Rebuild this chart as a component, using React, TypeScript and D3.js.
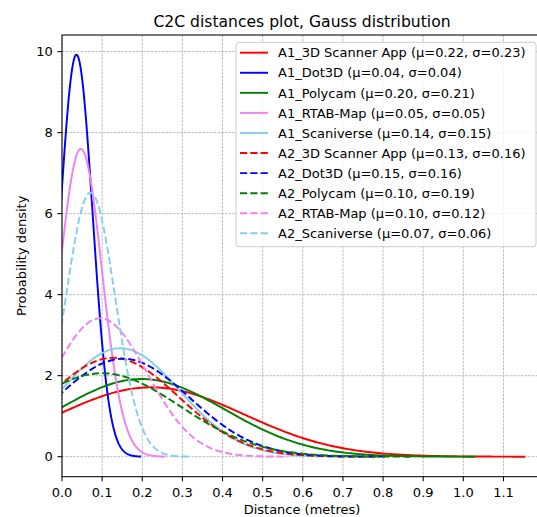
import React from "react";
import * as d3 from "d3";

const names = ["A1_3D Scanner App", "A1_Dot3D", "A1_Polycam", "A1_RTAB-Map", "A1_Scaniverse", "A2_3D Scanner App", "A2_Dot3D", "A2_Polycam", "A2_RTAB-Map", "A2_Scaniverse"];
const muLabels = ["0.22", "0.04", "0.20", "0.05", "0.14", "0.13", "0.15", "0.10", "0.10", "0.07"];
const sigmaLabels = ["0.23", "0.04", "0.21", "0.05", "0.15", "0.16", "0.16", "0.19", "0.12", "0.06"];
const mus = [0.222, 0.036, 0.198, 0.047, 0.145, 0.127, 0.152, 0.1, 0.095, 0.071];
const sigmas = [0.233, 0.0402, 0.208, 0.0525, 0.149, 0.1635, 0.165, 0.1937, 0.1168, 0.0612];
const colors = ["red", "blue", "green", "violet", "skyblue", "red", "blue", "green", "violet", "skyblue"];
const dashed = [false, false, false, false, false, true, true, true, true, true];
const xTicks = [0, 0.1, 0.2, 0.3, 0.4, 0.5, 0.6, 0.7, 0.8, 0.9, 1.0, 1.1];
const yTicks = [0, 2, 4, 6, 8, 10];

const W = 537, H = 517;
const L = 62, R = 542, T = 35, B = 476.7;
const FONT = "DejaVu Sans, sans-serif";
const FS = 13;
const LW = 1.95;
const DASH = "7.2,3.1";

export default function App() {
  const x = d3.scaleLinear().domain([0, 1.196]).range([L, R]);
  const y = d3.scaleLinear().domain([-0.494, 10.41]).range([B, T]);
  const line = d3.line<[number, number]>().x(d => x(d[0])).y(d => y(d[1]));

  const curves = mus.map((mu, i) => {
    const s = sigmas[i];
    const pts: [number, number][] = d3.range(0, 301).map(k => {
      const xv = mu - 4 * s + (8 * s * k) / 300;
      const yv = Math.exp(-0.5 * ((xv - mu) / s) ** 2) / (s * Math.sqrt(2 * Math.PI));
      return [xv, yv];
    });
    return line(pts) || "";
  });

  const legX = 236, legY = 42.3, legW = 300, legH = 204.4;
  const rowH = 20.07;

  return (
    <svg width={W} height={H} style={{ position: "absolute", left: 0, top: 0, background: "#fff" }} fontFamily={FONT}>
      <defs>
        <clipPath id="plotclip">
          <rect x={L} y={T} width={R - L} height={B - T} />
        </clipPath>
      </defs>
      <rect x={0} y={0} width={W} height={H} fill="#fff" />
      {/* grid */}
      {xTicks.map(t => (
        <line key={"gx" + t} x1={x(t)} x2={x(t)} y1={T} y2={B} stroke="#a0a0a0" strokeWidth={0.7} strokeDasharray="2.6,1.1" />
      ))}
      {yTicks.map(t => (
        <line key={"gy" + t} x1={L} x2={R} y1={y(t)} y2={y(t)} stroke="#a0a0a0" strokeWidth={0.7} strokeDasharray="2.6,1.1" />
      ))}
      {/* curves */}
      <g clipPath="url(#plotclip)">
        {curves.map((d, i) => (
          <path key={i} d={d} fill="none" stroke={colors[i]} strokeWidth={LW} strokeDasharray={dashed[i] ? DASH : undefined} />
        ))}
      </g>
      {/* spines */}
      <rect x={L} y={T} width={R - L} height={B - T} fill="none" stroke="#000" strokeWidth={1.05} />
      {/* x ticks */}
      {xTicks.map(t => (
        <g key={"tx" + t}>
          <line x1={x(t)} x2={x(t)} y1={B} y2={B + 4.6} stroke="#000" strokeWidth={1.05} />
          <text x={x(t)} y={497.3} fontSize={FS} textAnchor="middle" fill="#000">{t.toFixed(1)}</text>
        </g>
      ))}
      {yTicks.map(t => (
        <g key={"ty" + t}>
          <line x1={L} x2={L - 4.6} y1={y(t)} y2={y(t)} stroke="#000" strokeWidth={1.05} />
          <text x={L - 9.2} y={y(t) + 4.7} fontSize={FS} textAnchor="end" fill="#000">{t}</text>
        </g>
      ))}
      {/* labels */}
      <text x={(L + R) / 2} y={27} fontSize={15.6} textAnchor="middle" fill="#000">C2C distances plot, Gauss distribution</text>
      <text x={(L + R) / 2} y={514} fontSize={FS} textAnchor="middle" fill="#000">Distance (metres)</text>
      <text transform={`translate(26,${(T + B) / 2}) rotate(-90)`} fontSize={FS} textAnchor="middle" fill="#000">Probability density</text>
      {/* legend */}
      <rect x={legX} y={legY} width={legW} height={legH} rx={3} fill="#fff" fillOpacity={0.8} stroke="#cccccc" strokeWidth={1} />
      {names.map((n, i) => {
        const cy = legY + 10.4 + rowH * i;
        return (
          <g key={"lg" + i}>
            <line x1={240} x2={268} y1={cy} y2={cy} stroke={colors[i]} strokeWidth={LW} strokeDasharray={dashed[i] ? DASH : undefined} />
            <text x={278} y={cy + 4.7} fontSize={FS} fill="#000">{`${n} (μ=${muLabels[i]}, σ=${sigmaLabels[i]})`}</text>
          </g>
        );
      })}
    </svg>
  );
}
